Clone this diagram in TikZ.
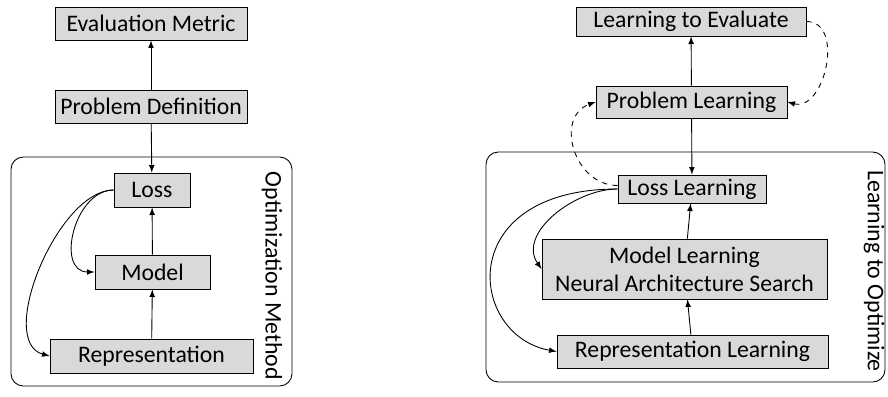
\documentclass[tikz,border=0pt]{standalone}
\usepackage{fontspec}
\setmainfont{Carlito}
\usepackage{tikz}
\usetikzlibrary{shapes,arrows,positioning,calc,arrows.meta}

\tikzset{
    blockbox/.style={draw, fill=gray!30, inner sep=0pt, align=center, font=\fontsize{13.5}{16}\selectfont},
    groupbox/.style={draw, rounded corners=7pt},
    sidelabel/.style={rotate=-90, font=\fontsize{13.6}{16}\selectfont},
}

\begin{document}
\begin{tikzpicture}[x=0.02cm, y=-0.02cm, >=latex, line width=0.5pt]
    \useasboundingbox (0,0) rectangle (888,396);
    % left: classical pipeline
    \draw[groupbox] (11,157) rectangle (292,386);
    \node[blockbox, minimum width=3.84cm, minimum height=0.66cm] (metric) at (151,23.5) {Evaluation Metric};
    \node[blockbox, minimum width=3.84cm, minimum height=0.66cm] (problem) at (151,106.5) {Problem Definition};
    \node[blockbox, minimum width=1.52cm, minimum height=0.68cm] (loss) at (152,190) {Loss};
    \node[blockbox, minimum width=2.3cm, minimum height=0.68cm] (model) at (152.5,272) {Model};
    \node[blockbox, minimum width=4.06cm, minimum height=0.68cm] (repr) at (151.5,356) {Representation};
    \node[sidelabel] (optlabel) at (272,276) {Optimization Method};
    \draw[->] (problem) -- (metric);
    \draw[->] (problem) -- (loss);
    \draw[->] (model) -- (loss);
    \draw[->] (repr) -- (model);
    \draw[->] (loss.west) to[out=180, in=180, looseness=1.2] (model.west);
    \draw[->] (loss.west) to[out=180, in=165, looseness=0.8] (repr.west);

    % right: learning pipeline
    \draw[groupbox] (486,152) rectangle (885,382);
    \node[blockbox, minimum width=4.6cm, minimum height=0.58cm] (evallearn) at (691,21.5) {Learning to Evaluate};
    \node[blockbox, minimum width=3.82cm, minimum height=0.64cm] (problearn) at (691.5,102) {Problem Learning};
    \node[blockbox, minimum width=2.96cm, minimum height=0.56cm] (losslearn) at (692,189) {Loss Learning};
    \node[blockbox, minimum width=5.7cm, minimum height=1.2cm] (modellearn) at (684.5,269) {Model Learning\\Neural Architecture Search};
    \node[blockbox, minimum width=5.42cm, minimum height=0.66cm] (reprlearn) at (692.5,351.5) {Representation Learning};
    \node[sidelabel] (l2olabel) at (874,271) {Learning to Optimize};
    \draw[->] (problearn) -- (evallearn);
    \draw[->] (problearn) -- (losslearn);
    \draw[->] (modellearn) -- (losslearn);
    \draw[->] (reprlearn) -- (modellearn);
    \draw[->] (losslearn.west) to[out=180, in=125, looseness=1] (modellearn.west);
    \draw[->] (losslearn.west) .. controls +(180:3.3cm) and +(170:1.8cm) .. (reprlearn.west);
    \draw[->, dashed] (evallearn.east) to[out=0, in=-15, looseness=1.2] (problearn.east);
    \draw[->, dashed] ([yshift=2pt]losslearn.west) to[out=180, in=200, looseness=1.3] (problearn.west);
\end{tikzpicture}
\end{document}
